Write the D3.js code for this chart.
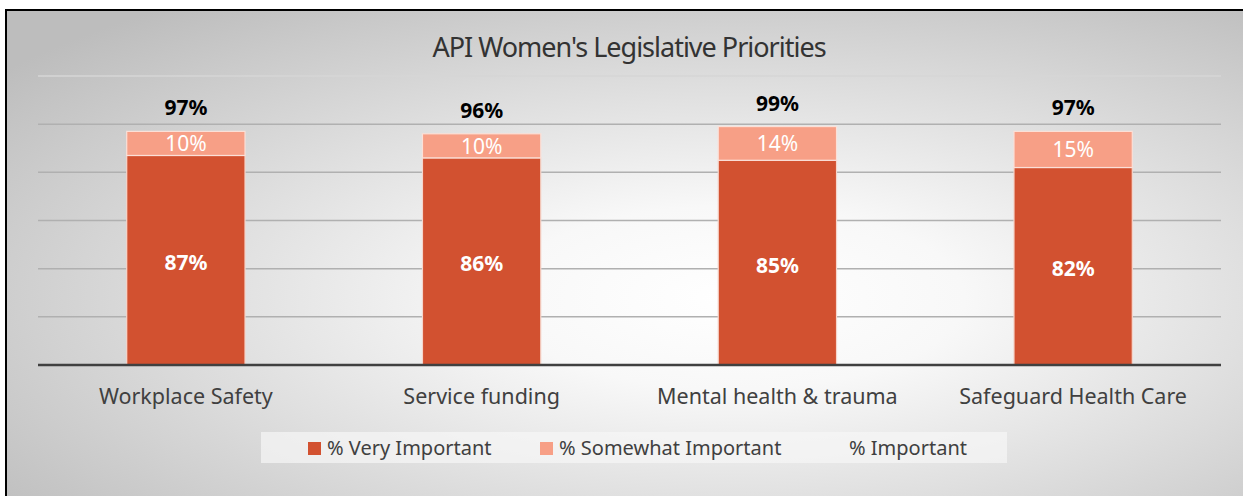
<!DOCTYPE html>
<html>
<head>
<meta charset="utf-8">
<script src="https://cdn.jsdelivr.net/npm/d3@7"></script>
<style>
  html, body { margin: 0; padding: 0; background: #fff; }
  svg { display: block; font-family: "Noto Sans", "Open Sans", sans-serif; }
</style>
</head>
<body>
<svg id="svg" width="1243" height="496"></svg>
<script>
const categories = ['Workplace Safety', 'Service funding', 'Mental health & trauma', 'Safeguard Health Care'];
const veryImportant = [87, 86, 85, 82];
const somewhatImportant = [10, 10, 14, 15];
const important = [97, 96, 99, 97];
const yTicks = [0, 20, 40, 60, 80, 100, 120];
const seriesNames = ['% Very Important', '% Somewhat Important', '% Important'];

const colors = { very: '#d25130', somewhat: '#f79f86' };

const svg = d3.select('#svg');
const W = 1243, H = 496;
const margin = { left: 38, right: 22, top: 76, bottom: 131 };

// background: radial gradient + black frame
const defs = svg.append('defs');
const grad = defs.append('radialGradient')
  .attr('id', 'bg')
  .attr('cx', '58%').attr('cy', '58%').attr('r', '74%');
grad.append('stop').attr('offset', '0%').attr('stop-color', '#ffffff');
grad.append('stop').attr('offset', '25%').attr('stop-color', '#f8f8f8');
grad.append('stop').attr('offset', '100%').attr('stop-color', '#bdbdbd');

svg.append('rect')
  .attr('x', 6).attr('y', 10).attr('width', W + 10).attr('height', H)
  .attr('fill', 'url(#bg)')
  .attr('stroke', '#000').attr('stroke-width', 2);

const x = d3.scaleBand()
  .domain(categories)
  .range([margin.left, W - margin.right])
  .paddingInner(0.6)
  .paddingOuter(0.3);

const y = d3.scaleLinear()
  .domain([0, 120])
  .range([H - margin.bottom, margin.top]);

// gridlines
svg.append('g')
  .selectAll('line')
  .data(yTicks.filter(d => d > 0))
  .enter().append('line')
  .attr('x1', margin.left).attr('x2', W - margin.right)
  .attr('y1', d => y(d)).attr('y2', d => y(d))
  .attr('stroke', d => d === 120 ? '#d6d6d6' : '#b0b0b0')
  .attr('stroke-width', 1.5);

// title
svg.append('text')
  .attr('x', 629).attr('y', 57)
  .attr('text-anchor', 'middle')
  .attr('font-size', 27)
  .attr('fill', '#333')
  .attr('letter-spacing', -1)
  .text("API Women's Legislative Priorities");

// stacked bars
const rows = categories.map((c, i) => ({ cat: c, very: veryImportant[i], some: somewhatImportant[i], total: important[i] }));

const g = svg.append('g');
g.selectAll('rect.very')
  .data(rows)
  .enter().append('rect')
  .attr('class', 'very')
  .attr('x', d => x(d.cat))
  .attr('width', x.bandwidth())
  .attr('y', d => y(d.very))
  .attr('height', d => y(0) - y(d.very))
  .attr('fill', colors.very)
  .attr('stroke', '#f6d6cc').attr('stroke-width', 1.2);

g.selectAll('rect.some')
  .data(rows)
  .enter().append('rect')
  .attr('class', 'some')
  .attr('x', d => x(d.cat))
  .attr('width', x.bandwidth())
  .attr('y', d => y(d.very + d.some))
  .attr('height', d => y(d.very) - y(d.very + d.some))
  .attr('fill', colors.somewhat)
  .attr('stroke', '#fbe0d8').attr('stroke-width', 1.2);

// labels in bars
g.selectAll('text.vlab')
  .data(rows)
  .enter().append('text')
  .attr('x', d => x(d.cat) + x.bandwidth() / 2)
  .attr('y', d => (y(0) + y(d.very)) / 2 + 10)
  .attr('text-anchor', 'middle')
  .attr('font-size', 21).attr('font-weight', 'bold')
  .attr('fill', '#fff')
  .text(d => d.very + '%');

g.selectAll('text.slab')
  .data(rows)
  .enter().append('text')
  .attr('x', d => x(d.cat) + x.bandwidth() / 2)
  .attr('y', d => (y(d.very) + y(d.very + d.some)) / 2 + 8)
  .attr('text-anchor', 'middle')
  .attr('font-size', 21)
  .attr('fill', '#fff')
  .text(d => d.some + '%');

g.selectAll('text.tlab')
  .data(rows)
  .enter().append('text')
  .attr('x', d => x(d.cat) + x.bandwidth() / 2)
  .attr('y', d => y(d.total) - 16)
  .attr('text-anchor', 'middle')
  .attr('font-size', 21).attr('font-weight', 'bold')
  .attr('fill', '#000')
  .text(d => d.total + '%');

// x axis
const xAxis = svg.append('g')
  .attr('transform', `translate(0, ${y(0)})`)
  .call(d3.axisBottom(x).tickSize(0).tickPadding(24));
xAxis.select('.domain').attr('stroke', '#404040').attr('stroke-width', 2.5)
  .attr('d', `M${margin.left},0H${W - margin.right}`);
xAxis.selectAll('text')
  .attr('font-size', 21.5)
  .attr('fill', '#404040')
  .attr('font-family', '"Noto Sans", "Open Sans", sans-serif');

// legend
const legend = svg.append('g');
legend.append('rect')
  .attr('x', 261).attr('y', 432).attr('width', 746).attr('height', 31)
  .attr('fill', '#f6f6f6').attr('opacity', 0.7);

const legendX = [308, 540, 849];
const legendFill = [colors.very, colors.somewhat, null];
const items = legend.selectAll('g.item')
  .data(seriesNames)
  .enter().append('g')
  .attr('transform', (d, i) => `translate(${legendX[i]}, 442)`);
items.filter((d, i) => legendFill[i])
  .append('rect')
  .attr('width', 13).attr('height', 13)
  .attr('fill', (d, i) => legendFill[i]);
items.append('text')
  .attr('x', (d, i) => legendFill[i] ? 19 : 0)
  .attr('y', 13)
  .attr('font-size', 20)
  .attr('fill', '#404040')
  .text(d => d);
</script>
</body>
</html>
